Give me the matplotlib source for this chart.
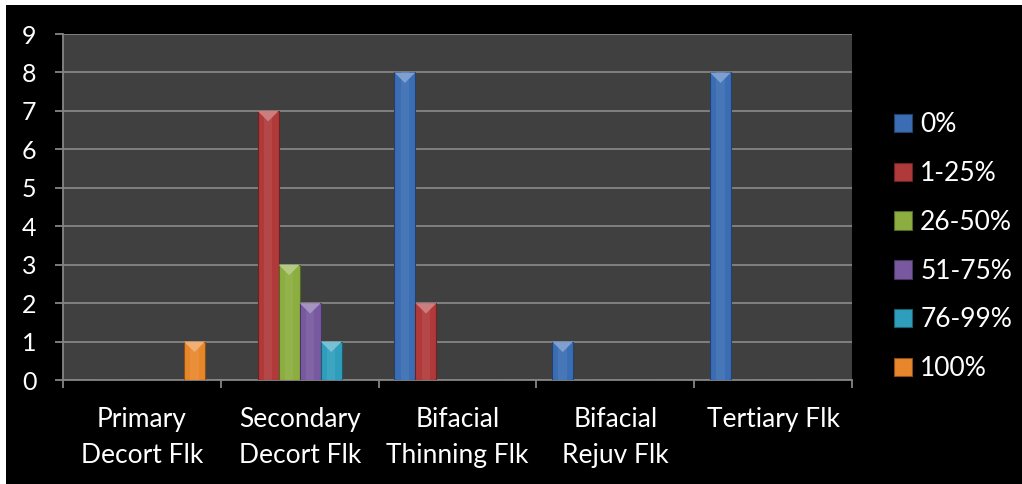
import matplotlib
matplotlib.use("Agg")
import matplotlib.pyplot as plt
from matplotlib.patches import Rectangle, Polygon
import numpy as np
from matplotlib.colors import to_rgb

categories = ["Primary\nDecort Flk", "Secondary\nDecort Flk", "Bifacial\nThinning Flk",
              "Bifacial\nRejuv Flk", "Tertiary Flk"]
series_names = ["0%", "1-25%", "26-50%", "51-75%", "76-99%", "100%"]
values_0 = [0, 0, 8, 1, 8]
values_1_25 = [0, 7, 2, 0, 0]
values_26_50 = [0, 3, 0, 0, 0]
values_51_75 = [0, 2, 0, 0, 0]
values_76_99 = [0, 1, 0, 0, 0]
values_100 = [1, 0, 0, 0, 0]
series_values = [values_0, values_1_25, values_26_50, values_51_75, values_76_99, values_100]
colors = ["#3A6DB3", "#B0393A", "#8CAD3F", "#7859A0", "#2F9EBC", "#E8862B"]

plt.rcParams["font.family"] = ["Lato", "DejaVu Sans"]

fig = plt.figure(figsize=(10.22, 4.84), dpi=100, facecolor="white")
fig.patches.append(Rectangle((6 / 1022, 0), 1, 1 - 5 / 484, transform=fig.transFigure,
                             facecolor="black", edgecolor="none", zorder=-10))

ax = fig.add_axes([63 / 1022, 1 - 380 / 484, (852 - 63) / 1022, (380 - 34) / 484])
ax.set_facecolor("#404040")
ax.set_xlim(0, len(categories))
ax.set_ylim(0, 9)

n = len(series_names)
gap = 1.5
bw = 1.0 / (n + gap)
x = np.arange(len(categories))
offset0 = gap * bw / 2

def shade(c, f):
    r, g, b = to_rgb(c)
    if f >= 1:
        return (r + (1 - r) * (f - 1), g + (1 - g) * (f - 1), b + (1 - b) * (f - 1))
    return (r * f, g * f, b * f)

fig.canvas.draw()
px_per_unit_y = ax.transData.transform((0, 1))[1] - ax.transData.transform((0, 0))[1]
px_per_unit_x = ax.transData.transform((1, 0))[0] - ax.transData.transform((0, 0))[0]

handles = []
for i, (name, vals, col) in enumerate(zip(series_names, series_values, colors)):
    bars = ax.bar(x + offset0 + i * bw, vals, width=bw, align="edge", color=col,
                  edgecolor=shade(col, 0.6), linewidth=0.8, zorder=3, label=name)
    handles.append(bars)
    for b in bars:
        h = b.get_height()
        if h <= 0:
            continue
        bx, w = b.get_x(), b.get_width()
        # lighter centre strip for a rounded look
        ax.add_patch(Rectangle((bx + w * 0.3, 0), w * 0.4, h, facecolor=shade(col, 1.12),
                               edgecolor="none", zorder=3.5, alpha=0.6))
        # bevelled top
        depth = (w * px_per_unit_x / 2) / px_per_unit_y
        ax.add_patch(Polygon([(bx, h), (bx + w, h), (bx + w / 2, h - depth)], closed=True,
                             facecolor=shade(col, 1.35), edgecolor="none", zorder=4))

grid_col = "#858585"
ax.yaxis.grid(True, color=grid_col, linewidth=1.3, zorder=1)
ax.set_axisbelow(True)
for s in ["top", "right"]:
    ax.spines[s].set_visible(False)
for s in ["left", "bottom"]:
    ax.spines[s].set_color(grid_col)
    ax.spines[s].set_linewidth(1.3)

ax.set_yticks(range(0, 10))
ax.tick_params(axis="y", colors=grid_col, length=6, width=1.3, labelcolor="white",
               labelsize=18, pad=13)
ax.set_xticks(np.arange(len(categories) + 1), minor=True)
ax.set_xticks(x + 0.5)
ax.set_xticklabels(categories, color="white", fontsize=19, linespacing=1.55)
ax.tick_params(axis="x", which="major", length=0, pad=19.5)
ax.tick_params(axis="x", which="minor", length=6, width=1.3, colors=grid_col)

leg = ax.legend(handles=handles, loc="center left", bbox_to_anchor=(1.053, 0.385),
                frameon=False, fontsize=19, labelcolor="white", handlelength=0.7,
                handleheight=0.7, labelspacing=0.9, handletextpad=0.3,
                borderaxespad=0, borderpad=0)

fig.savefig("out.png", dpi=100, facecolor=fig.get_facecolor())
